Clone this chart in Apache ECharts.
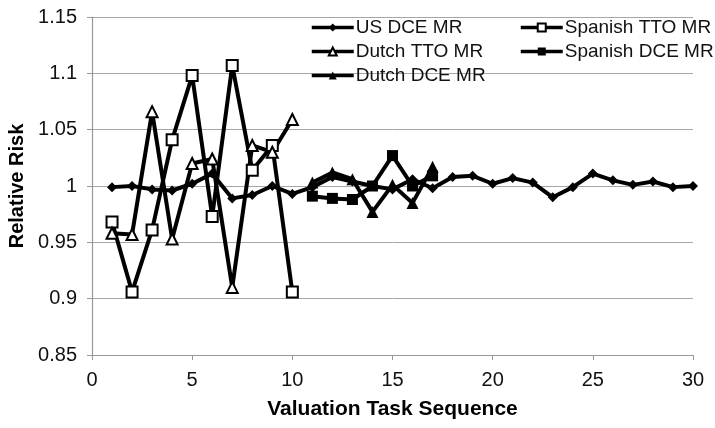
<!DOCTYPE html>
<html>
<head>
<meta charset="utf-8">
<script src="https://cdn.jsdelivr.net/npm/echarts@6/dist/echarts.min.js"></script>
<style>html,body{margin:0;padding:0;background:#fff}#c{width:715px;height:428px}</style>
</head>
<body>
<div id="c"></div>
<script>
var seriesNames = ['US DCE MR', 'Spanish TTO MR', 'Dutch TTO MR', 'Spanish DCE MR', 'Dutch DCE MR'];
var usX = [1,2,3,4,5,6,7,8,9,10,11,12,13,14,15,16,17,18,19,20,21,22,23,24,25,26,27,28,29,30];
var usDCE = [0.999,1.0,0.997,0.996,1.002,1.011,0.989,0.992,1.0,0.993,0.999,1.008,1.004,1.0,0.997,1.006,0.998,1.008,1.009,1.002,1.007,1.003,0.99,0.999,1.011,1.005,1.001,1.004,0.999,1.0];
var ttoX = [1,2,3,4,5,6,7,8,9,10];
var spanishTTO = [0.968,0.906,0.961,1.041,1.098,0.973,1.107,1.014,1.036,0.906];
var dutchTTO = [0.958,0.957,1.066,0.953,1.02,1.024,0.91,1.036,1.03,1.059];
var dceX = [11,12,13,14,15,16,17];
var spanishDCE = [0.991,0.989,0.988,1.0,1.027,1.0,1.009];
var dutchDCE = [1.003,1.012,1.006,0.977,1.001,0.985,1.017];

function pairs(xs, ys){ return xs.map(function(x,i){ return [x, ys[i]]; }); }

var font = '"Liberation Sans", Arial, sans-serif';
function mk(name, xs, ys, symbol, size, fill){
  return {
    name: name, type: 'line', data: pairs(xs, ys),
    symbol: symbol, symbolSize: size,
    lineStyle: {color: '#000', width: 4},
    itemStyle: {color: fill, borderColor: '#000', borderWidth: fill === '#fff' ? 2 : 0},
    emphasis: {disabled: true}, animation: false, z: 2
  };
}
var diamond = 'path://M0,-1 L1,0 L0,1 L-1,0 Z';
var legendBase = {orient: 'vertical', top: 13, itemWidth: 42, itemHeight: 10, itemGap: 5,
  lineStyle: {width: 3.5}, textStyle: {fontFamily: font, fontSize: 19, color: '#111', padding: [0,0,0,-3]}};
var chart = echarts.init(document.getElementById('c'), null, {renderer: 'canvas'});
chart.setOption({
  animation: false,
  backgroundColor: '#fff',
  grid: {left: 92, right: 22, top: 17, bottom: 73, containLabel: false, outerBoundsMode: 'none'},
  legend: [
    Object.assign({}, legendBase, {data: [seriesNames[0], seriesNames[2], seriesNames[4]], left: 305}),
    Object.assign({}, legendBase, {data: [seriesNames[1], seriesNames[3]], left: 514})
  ],
  xAxis: {
    type: 'value', min: 0, max: 30, interval: 5,
    name: 'Valuation Task Sequence', nameLocation: 'middle', nameGap: 44,
    nameTextStyle: {fontFamily: font, fontSize: 21, fontWeight: 'bold', color: '#000'},
    axisLine: {lineStyle: {color: '#999', width: 1.2}},
    axisTick: {show: true, length: 5, lineStyle: {color: '#999'}},
    axisLabel: {fontFamily: font, fontSize: 20, color: '#111', margin: 15},
    splitLine: {show: false}
  },
  yAxis: {
    type: 'value', min: 0.85, max: 1.15, interval: 0.05,
    name: 'Relative Risk', nameLocation: 'middle', nameGap: 55, nameRotate: 90,
    nameTextStyle: {fontFamily: font, fontSize: 20, fontWeight: 'bold', color: '#000'},
    axisLine: {show: true, lineStyle: {color: '#999', width: 1.2}},
    axisTick: {show: true, length: 5, lineStyle: {color: '#999'}},
    axisLabel: {fontFamily: font, fontSize: 20, color: '#111', margin: 15,
      formatter: function(v){ return (Math.round(v*100)/100).toString(); }},
    splitLine: {show: true, lineStyle: {color: '#a6a6a6', width: 1}}
  },
  series: [
    mk(seriesNames[0], usX, usDCE, diamond, 10, '#000'),
    mk(seriesNames[1], ttoX, spanishTTO, 'rect', 11, '#fff'),
    mk(seriesNames[2], ttoX, dutchTTO, 'triangle', 11, '#fff'),
    mk(seriesNames[3], dceX, spanishDCE, 'rect', 11, '#000'),
    mk(seriesNames[4], dceX, dutchDCE, 'triangle', 12, '#000')
  ]
});
</script>
</body>
</html>
